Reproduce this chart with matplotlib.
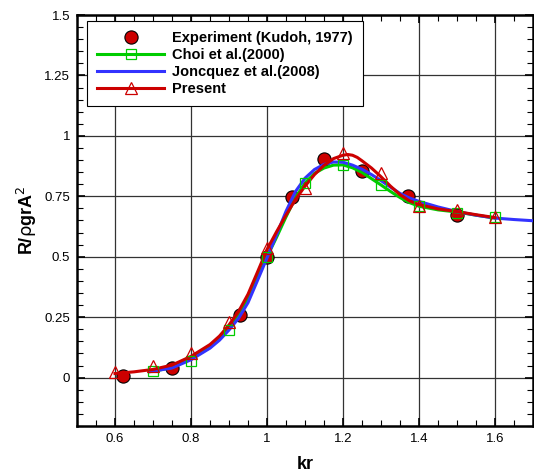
import matplotlib
matplotlib.use("Agg")
import matplotlib.pyplot as plt
from matplotlib.ticker import MultipleLocator, FuncFormatter

# Experiment (Kudoh, 1977)
exp_kr = [0.62, 0.75, 0.93, 1.00, 1.067, 1.15, 1.25, 1.37, 1.50]
exp_val = [0.008, 0.040, 0.260, 0.500, 0.749, 0.903, 0.853, 0.752, 0.673]

# Choi et al.(2000) - markers and curve
choi_kr = [0.7, 0.8, 0.9, 1.0, 1.1, 1.2, 1.3, 1.4, 1.5, 1.6]
choi_val = [0.026, 0.067, 0.198, 0.500, 0.804, 0.880, 0.797, 0.710, 0.680, 0.664]
choi_line_kr = [0.700, 0.750, 0.800, 0.850, 0.900, 0.925, 0.950, 0.975, 1.000, 1.025,
                1.050, 1.075, 1.100, 1.125, 1.150, 1.175, 1.200, 1.225, 1.250, 1.275,
                1.300, 1.325, 1.350, 1.375, 1.400, 1.450, 1.500, 1.550, 1.600]
choi_line_val = [0.026, 0.042, 0.078, 0.125, 0.205, 0.262, 0.330, 0.415, 0.500, 0.580,
                 0.665, 0.745, 0.805, 0.845, 0.867, 0.879, 0.880, 0.868, 0.849, 0.823,
                 0.797, 0.770, 0.745, 0.724, 0.709, 0.694, 0.685, 0.672, 0.660]

# Joncquez et al.(2008) - curve only
jon_kr = [0.690, 0.750, 0.800, 0.850, 0.875, 0.900, 0.925, 0.950, 0.975, 1.000,
          1.025, 1.050, 1.075, 1.100, 1.125, 1.150, 1.175, 1.200, 1.225, 1.250,
          1.275, 1.300, 1.325, 1.350, 1.375, 1.400, 1.450, 1.500, 1.550, 1.600,
          1.650, 1.700]
jon_val = [0.024, 0.040, 0.074, 0.122, 0.155, 0.197, 0.245, 0.310, 0.402, 0.495,
           0.590, 0.688, 0.770, 0.825, 0.861, 0.882, 0.892, 0.891, 0.879, 0.862,
           0.840, 0.815, 0.788, 0.762, 0.743, 0.729, 0.706, 0.687, 0.672, 0.660,
           0.654, 0.649]

# Present - markers and curve
pres_kr = [0.6, 0.7, 0.8, 0.9, 1.0, 1.1, 1.2, 1.3, 1.4, 1.5, 1.6]
pres_val = [0.022, 0.047, 0.102, 0.229, 0.536, 0.784, 0.928, 0.846, 0.710, 0.694, 0.664]
pres_line_kr = [0.600, 0.650, 0.700, 0.750, 0.800, 0.850, 0.875, 0.900, 0.925, 0.950,
                0.975, 1.000, 1.025, 1.050, 1.075, 1.100, 1.125, 1.150, 1.175, 1.200,
                1.2125, 1.225, 1.2375, 1.250, 1.275, 1.300, 1.325, 1.350, 1.375, 1.400,
                1.450, 1.500, 1.550, 1.600]
pres_line_val = [0.017, 0.024, 0.034, 0.052, 0.088, 0.137, 0.172, 0.218, 0.273, 0.345,
                 0.437, 0.530, 0.603, 0.672, 0.737, 0.792, 0.840, 0.878, 0.906, 0.920,
                 0.923, 0.920, 0.911, 0.897, 0.867, 0.831, 0.792, 0.757, 0.731, 0.716,
                 0.698, 0.687, 0.674, 0.662]

RED = "#cc0000"
GREEN = "#00cc00"
BLUE = "#3333ff"

plt.rcParams["font.family"] = ["Liberation Sans", "DejaVu Sans"]

fig = plt.figure(figsize=(5.34, 4.74), dpi=100)
ax = fig.add_axes([77 / 534, 1 - 426 / 474, 456 / 534, 411 / 474])

# curves
ax.plot(choi_line_kr, choi_line_val, color=GREEN, lw=2.2, zorder=3)
ax.plot(jon_kr, jon_val, color=BLUE, lw=2.2, zorder=3)
ax.plot(pres_line_kr, pres_line_val, color=RED, lw=2.2, zorder=4)

# markers
ax.plot(exp_kr, exp_val, "o", ms=9.5, mfc=RED, mec="black", mew=0.8, zorder=2)
ax.plot(choi_kr, choi_val, "s", ms=6.5, mfc="none", mec=GREEN, mew=0.9, zorder=5)
ax.plot(pres_kr, pres_val, "^", ms=8, mfc="none", mec=RED, mew=0.9, zorder=5)

# legend handles (empty artists, only for the legend)
h_exp, = ax.plot([], [], "o", ms=9.5, mfc=RED, mec="black", mew=0.8,
                 label="Experiment (Kudoh, 1977)")
h_choi, = ax.plot([], [], "-s", color=GREEN, lw=2.2, ms=6.5, mfc="none", mec=GREEN,
                  mew=0.9, label="Choi et al.(2000)")
h_jon, = ax.plot([], [], "-", color=BLUE, lw=2.2, label="Joncquez et al.(2008)")
h_pres, = ax.plot([], [], "-^", color=RED, lw=2.2, ms=8, mfc="none", mec=RED,
                  mew=0.9, label="Present")

leg = ax.legend(handles=[h_exp, h_choi, h_jon, h_pres], loc="upper left",
                bbox_to_anchor=(0.022, 0.985), borderaxespad=0, fancybox=False,
                framealpha=1, edgecolor="black", handlelength=4.6, handletextpad=0.55,
                labelspacing=0.2, borderpad=0.7, numpoints=1,
                prop={"weight": "bold", "size": 10.5})
leg.get_frame().set_linewidth(0.8)
leg.set_zorder(10)

ax.set_xlim(0.5, 1.7)
ax.set_ylim(-0.2, 1.5)

ax.xaxis.set_major_locator(MultipleLocator(0.2))
ax.xaxis.set_minor_locator(MultipleLocator(0.05))
ax.yaxis.set_major_locator(MultipleLocator(0.25))
ax.yaxis.set_minor_locator(MultipleLocator(0.05))
fmt = FuncFormatter(lambda v, p: "%g" % round(v, 2))
ax.xaxis.set_major_formatter(fmt)
ax.yaxis.set_major_formatter(fmt)

ax.tick_params(which="both", direction="in", top=True, right=True, labelsize=9.5)
ax.tick_params(which="major", length=6, width=1.2, pad=5)
ax.tick_params(which="minor", length=4, width=0.8)

ax.grid(which="major", color="0.2", lw=0.9)
ax.set_axisbelow(True)
for s in ax.spines.values():
    s.set_linewidth(1.8)

ax.set_xlabel("kr", fontsize=13, fontweight="bold", labelpad=8)
ax.set_ylabel(r"R/$\mathrm{\rho}$grA$^2$", fontsize=13, fontweight="bold", labelpad=4)

fig.savefig("out.png", dpi=100)
